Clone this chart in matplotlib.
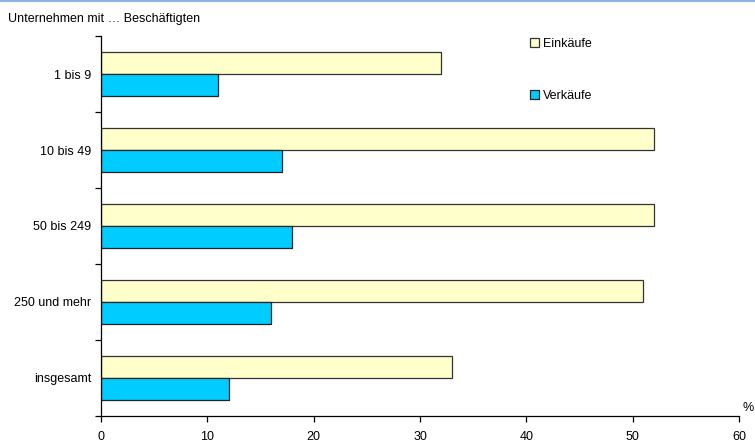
import matplotlib.pyplot as plt
from matplotlib.patches import Patch
import numpy as np

plt.rcParams["font.family"] = ["Liberation Sans", "DejaVu Sans"]

kategorien = ["1 bis 9", "10 bis 49", "50 bis 249", "250 und mehr", "insgesamt"]
einkaeufe = [32, 52, 52, 51, 33]
verkaeufe = [11, 17, 18, 16, 12]
x_ticks = [0, 10, 20, 30, 40, 50, 60]

fig = plt.figure(figsize=(7.55, 4.43), dpi=100)
ax = fig.add_axes([0.1338, 0.0610, 0.8450, 0.8577])

y = np.arange(len(kategorien))
h = 0.29
ax.barh(y - h / 2, einkaeufe, height=h, color="#FFFFCC",
        edgecolor="#333333", linewidth=0.9, label="Einkäufe")
ax.barh(y + h / 2, verkaeufe, height=h, color="#00CCFF",
        edgecolor="#222222", linewidth=0.9, label="Verkäufe")

ax.set_xlim(0, 60)
ax.set_ylim(len(kategorien) - 0.5, -0.5)
ax.set_xticks(x_ticks)
ax.set_xticklabels([str(t) for t in x_ticks], fontsize=9)
ax.set_yticks(y)
ax.set_yticklabels(kategorien, fontsize=9)
ax.set_yticks(np.arange(len(kategorien) + 1) - 0.5, minor=True)
ax.tick_params(axis="y", which="major", length=0, pad=7)
ax.tick_params(axis="y", which="minor", length=4, direction="out", width=0.9)
ax.tick_params(axis="x", length=4, direction="out", width=0.9, pad=7)

for s in ["top", "right"]:
    ax.spines[s].set_visible(False)
for s in ["left", "bottom"]:
    ax.spines[s].set_linewidth(0.9)

handles = [Patch(facecolor="#FFFFCC", edgecolor="#333333", linewidth=0.9),
           Patch(facecolor="#00CCFF", edgecolor="#222222", linewidth=0.9)]
ax.legend(handles, ["Einkäufe", "Verkäufe"], loc="upper left",
          bbox_to_anchor=(0.655, 1.025), frameon=False, fontsize=9,
          handlelength=0.7, handleheight=0.7, handletextpad=0.3,
          labelspacing=3.2)

fig.text(0.991, 0.078, "%", fontsize=9, ha="center", va="center")
fig.text(0.011, 0.957, "Unternehmen mit … Beschäftigten", fontsize=9,
         ha="left", va="center")
fig.add_artist(plt.Line2D([0, 1], [0.998, 0.998], color="#8DB4E2",
                          linewidth=1.5, transform=fig.transFigure))

fig.savefig("out.png", dpi=100)
